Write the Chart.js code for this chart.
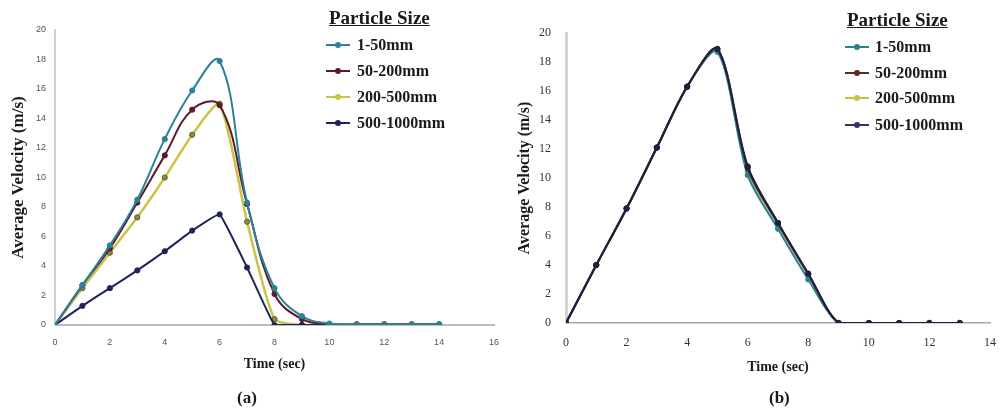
<!DOCTYPE html>
<html><head><meta charset="utf-8">
<script src="https://cdn.jsdelivr.net/npm/chart.js"></script>
<style>
html,body{margin:0;padding:0;background:#fff;width:1001px;height:409px;overflow:hidden;}
body{position:relative;}
canvas{position:absolute;top:0;}
#ca{left:0;} #cb{left:500px;}
.lg{position:absolute;left:0;top:0;font-family:"Liberation Serif","Times New Roman",serif;font-weight:bold;color:#1a1a1a;}
.lgt{position:absolute;font-size:19px;text-decoration:underline;line-height:22px;white-space:nowrap;}
.row{position:absolute;height:20px;display:flex;align-items:center;white-space:nowrap;font-size:16px;line-height:20px;}
.sym{position:relative;width:24px;height:20px;}
.sym .ln{position:absolute;left:0;right:0;top:9px;height:2px;}
.sym .dot{position:absolute;left:9px;top:7px;width:6px;height:6px;border-radius:50%;}
.cap{position:absolute;font-family:"Liberation Serif","Times New Roman",serif;font-weight:bold;font-size:17px;line-height:20px;color:#1a1a1a;}
</style></head><body>
<canvas id="ca" width="500" height="409"></canvas>
<canvas id="cb" width="501" height="409"></canvas>
<div id="lga" class="lg"></div>
<div id="lgb" class="lg"></div>
<div class="cap" style="left:237px;top:388px;">(a)</div>
<div class="cap" style="left:769px;top:388px;">(b)</div>
<script>
// ---------- data ----------
const legendTitle = "Particle Size";
const seriesNames = ["1-50mm", "50-200mm", "200-500mm", "500-1000mm"];
const seriesColors = ["#2e7f98", "#5c1a2c", "#c9c447", "#1d2457"];
const xTitle = "Time (sec)";
const yTitle = "Average Velocity (m/s)";

// chart (a)
const timesA = [0,1,2,3,4,5,6,7,8,9,10,11,12,13,14];
const a_1_50     = [0, 2.7, 5.4, 8.5, 12.6, 15.9, 17.9, 8.3, 2.5, 0.6, 0.1, 0.05, 0.05, 0.05, 0.05];
const a_50_200   = [0, 2.7, 5.2, 8.3, 11.5, 14.6, 14.9, 8.2, 2.1, 0.4, 0.05, 0.05, 0.05, 0.05, 0.05];
const a_200_500  = [0, 2.5, 4.9, 7.3, 10.0, 12.9, 15.0, 7.0, 0.4, 0, 0, 0, 0, 0, 0];
const a_500_1000 = [0, 1.3, 2.5, 3.7, 5.0, 6.4, 7.5, 3.9, 0, 0, 0, 0, 0, 0, 0];
const xTicksA = {min: 0, max: 16, step: 2};
const yTicksA = {min: 0, max: 20, step: 2};

// chart (b)
const timesB = [0,1,2,3,4,5,6,7,8,9,10,11,12,13];
const b_1_50     = [0, 4.0, 7.9, 12.1, 16.3, 18.7, 10.2, 6.5, 3.0, 0, 0, 0, 0, 0];
const b_50_200   = [0, 4.0, 7.9, 12.1, 16.3, 18.9, 10.7, 6.9, 3.4, 0, 0, 0, 0, 0];
const b_200_500  = [0, 4.0, 7.9, 12.1, 16.3, 18.8, 10.5, 6.8, 3.3, 0, 0, 0, 0, 0];
const b_500_1000 = [0, 4.0, 7.9, 12.1, 16.3, 18.9, 10.8, 6.9, 3.4, 0, 0, 0, 0, 0];
const xTicksB = {min: 0, max: 14, step: 2};
const yTicksB = {min: 0, max: 20, step: 2};

// ---------- helpers ----------
function pts(xs, ys){ return ys.map((v,i)=>({x: xs[i], y: v})); }

function ds(label, xs, ys, color, opts){
  return Object.assign({
    label, data: pts(xs, ys),
    borderColor: color, backgroundColor: color,
    pointBackgroundColor: color, pointBorderColor: color,
    borderWidth: 2, pointRadius: 2.6, pointBorderWidth: 1,
    tension: 0.35, fill: false
  }, opts || {});
}

function makeChart(id, datasets, L){
  return new Chart(document.getElementById(id), {
    type: 'line',
    data: {datasets},
    options: {
      responsive: false, animation: false, devicePixelRatio: 1,
      layout: {padding: {left: L.padL, top: L.padT, right: L.padR, bottom: L.padB}},
      plugins: {legend: {display: false}, tooltip: {enabled: false}},
      scales: {
        x: {
          type: 'linear', min: L.xt.min, max: L.xt.max,
          ticks: {stepSize: L.xt.step, padding: L.xTickPad, font: L.tickFont, color: L.tickColor, maxRotation: 0},
          grid: {display: false, drawTicks: false},
          border: {display: true, color: L.xAxisColor, width: L.xAxisWidth},
          title: {display: true, text: xTitle, padding: 0, color: '#1a1a1a',
                  font: {family: 'Liberation Serif', weight: 'bold', size: 14}},
          afterFit: s => { s.height = L.xH; s.paddingLeft = 0; s.paddingRight = 0; }
        },
        y: {
          min: L.yt.min, max: L.yt.max,
          ticks: {stepSize: L.yt.step, padding: L.yTickPad, font: L.tickFont, color: L.tickColor},
          grid: {display: false, drawTicks: false},
          border: {display: true, color: L.yAxisColor, width: L.yAxisWidth},
          title: {display: true, text: yTitle, padding: 0, color: '#1a1a1a',
                  font: {family: 'Liberation Serif', weight: 'bold', size: L.yTitleSize}},
          afterFit: s => { s.width = L.yW; }
        }
      }
    }
  });
}

// ---------- chart (a) ----------
makeChart('ca', [
  ds(seriesNames[0], timesA, a_1_50, seriesColors[0], {tension: 0.4}),
  ds(seriesNames[1], timesA, a_50_200, seriesColors[1], {tension: 0.4}),
  ds(seriesNames[3], timesA, a_500_1000, seriesColors[3], {tension: 0.08}),
  ds(seriesNames[2], timesA, a_200_500, seriesColors[2], {tension: 0.2, borderWidth: 2.5, pointBackgroundColor: '#8f8a3a', pointBorderColor: '#5a5a3a'})
], {
  padL: 8, padT: 30, padR: 6, padB: 36,
  yW: 47, xH: 48,
  xTickPad: 12, yTickPad: 9,
  xt: xTicksA, yt: yTicksA, yTitleSize: 17,
  tickFont: {family: 'Liberation Sans', size: 9}, tickColor: '#555',
  xAxisColor: '#bdbdbd', xAxisWidth: 2, yAxisColor: '#cfcfcf', yAxisWidth: 2
});

// ---------- chart (b) ----------
makeChart('cb', [
  ds(seriesNames[3], timesB, b_500_1000, '#221f3e', {tension: 0.3}),
  ds(seriesNames[1], timesB, b_50_200, '#3a1e24', {tension: 0.3}),
  ds(seriesNames[0], timesB, b_1_50, '#2f7f90', {tension: 0.3}),
  ds(seriesNames[2], timesB, b_200_500, '#8d8a3c', {tension: 0.3})
], {
  padL: 15, padT: 33, padR: 11, padB: 33,
  yW: 51, xH: 53,
  xTickPad: 13, yTickPad: 15,
  xt: xTicksB, yt: yTicksB, yTitleSize: 16,
  tickFont: {family: 'Liberation Serif', size: 12}, tickColor: '#333',
  xAxisColor: '#a8a8a8', xAxisWidth: 1.5, yAxisColor: '#d4d4d4', yAxisWidth: 3
});

// ---------- HTML legends ----------
function buildLegend(id, L){
  const el = document.getElementById(id);
  const t = document.createElement('div');
  t.className = 'lgt'; t.textContent = legendTitle;
  t.style.left = L.titleX + 'px'; t.style.top = (L.titleY - 11) + 'px';
  el.appendChild(t);
  seriesNames.forEach((n, i) => {
    const r = document.createElement('div');
    r.className = 'row';
    r.style.left = L.symX + 'px'; r.style.top = (L.rowY[i] - 10) + 'px';
    const s = document.createElement('div'); s.className = 'sym';
    s.style.marginRight = L.gap + 'px';
    const ln = document.createElement('div'); ln.className = 'ln'; ln.style.background = L.colors[i];
    const dot = document.createElement('div'); dot.className = 'dot'; dot.style.background = L.colors[i];
    s.appendChild(ln); s.appendChild(dot);
    const tx = document.createElement('span'); tx.textContent = n;
    r.appendChild(s); r.appendChild(tx);
    el.appendChild(r);
  });
}
buildLegend('lga', {titleX: 329, titleY: 18, symX: 326, gap: 7, rowY: [45, 71, 97, 123], colors: seriesColors});
buildLegend('lgb', {titleX: 847, titleY: 20, symX: 845, gap: 6, rowY: [47, 73, 98, 125],
  colors: ['#2f7f90', '#5a2a20', '#c9c447', '#3a2f6a']});
</script>
</body></html>
